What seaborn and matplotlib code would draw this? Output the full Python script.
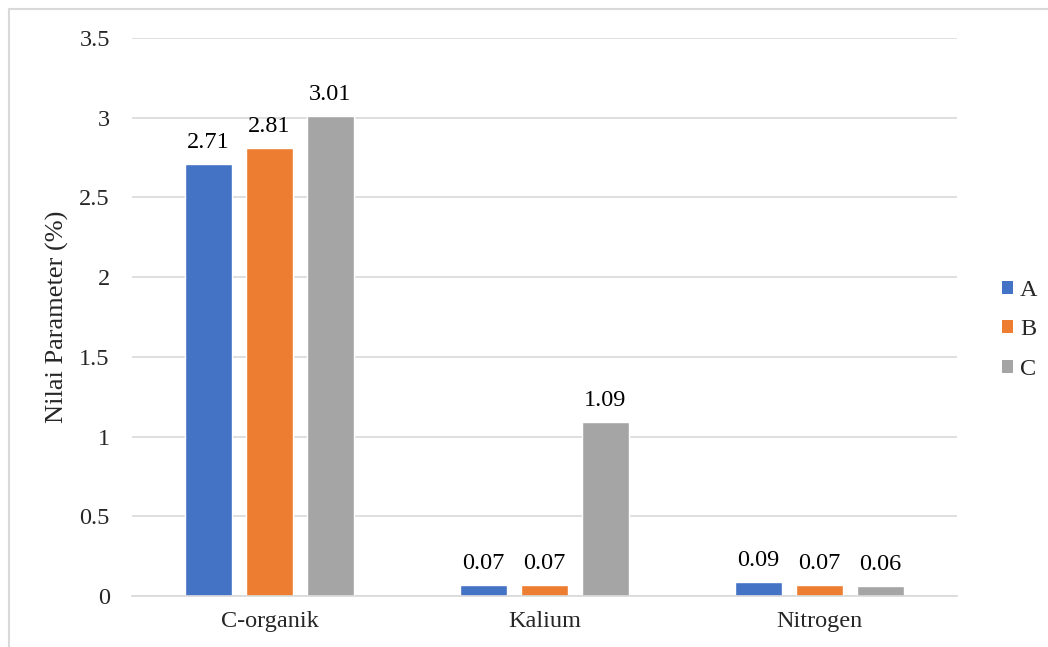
import matplotlib
matplotlib.use("Agg")
import matplotlib.pyplot as plt
import seaborn as sns
import pandas as pd
from matplotlib.lines import Line2D
from matplotlib.patches import Patch

categories = ["C-organik", "Kalium", "Nitrogen"]
series_names = ["A", "B", "C"]
values_A = [2.71, 0.07, 0.09]
values_B = [2.81, 0.07, 0.07]
values_C = [3.01, 1.09, 0.06]
y_ticks = [0, 0.5, 1, 1.5, 2, 2.5, 3, 3.5]
y_tick_labels = ["0", "0.5", "1", "1.5", "2", "2.5", "3", "3.5"]
colors = ["#4472C4", "#ED7D31", "#A5A5A5"]

rows = []
for name, vals in zip(series_names, [values_A, values_B, values_C]):
    for cat, v in zip(categories, vals):
        rows.append({"Parameter": cat, "Seri": name, "Nilai": v})
df = pd.DataFrame(rows)

sns.set_theme(style="white")
plt.rcParams["font.family"] = ["Liberation Serif", "DejaVu Serif"]

FS = 17.5

fig = plt.figure(figsize=(10.48, 6.47), dpi=100)
ax = fig.add_axes([0.126, 0.0788, 0.787, 0.8625])

sns.barplot(data=df, x="Parameter", y="Nilai", hue="Seri", order=categories,
            hue_order=series_names, palette=colors, width=0.665, gap=0.23,
            saturation=1, errorbar=None, legend=False, ax=ax)

for cont in ax.containers:
    ax.bar_label(cont, labels=[f"{b.get_height():.2f}" for b in cont],
                 padding=8, fontsize=FS, color="#000000")

ax.set_ylim(0, 3.5)
ax.set_xlim(-0.5, 2.5)
ax.set_yticks(y_ticks)
ax.set_yticklabels(y_tick_labels, fontsize=FS)
ax.tick_params(axis="x", labelsize=FS, length=0, pad=11)
ax.tick_params(axis="y", length=0, pad=16)
ax.yaxis.grid(True, color="#D9D9D9", linewidth=1.2)
ax.set_axisbelow(True)
for s in ["top", "right", "left"]:
    ax.spines[s].set_visible(False)
ax.spines["bottom"].set_color("#D9D9D9")
ax.spines["bottom"].set_linewidth(1.2)
ax.set_xlabel("")
ax.set_ylabel("Nilai Parameter (%)", fontsize=19)
ax.yaxis.set_label_coords(-0.076, 0.5)

handles = [Patch(facecolor=c, edgecolor="none") for c in colors]
fig.legend(handles, series_names, loc="center left", bbox_to_anchor=(0.935, 0.49),
           frameon=False, fontsize=FS, handlelength=0.45, handleheight=0.45,
           handletextpad=0.3, labelspacing=0.75)

fig.add_artist(Line2D([0.0086, 1.0], [0.986, 0.986], transform=fig.transFigure,
                      color="#D9D9D9", linewidth=1.5))
fig.add_artist(Line2D([0.0086, 0.0086], [0.0, 0.986], transform=fig.transFigure,
                      color="#D9D9D9", linewidth=1.5))

fig.savefig("out.png", dpi=100)
